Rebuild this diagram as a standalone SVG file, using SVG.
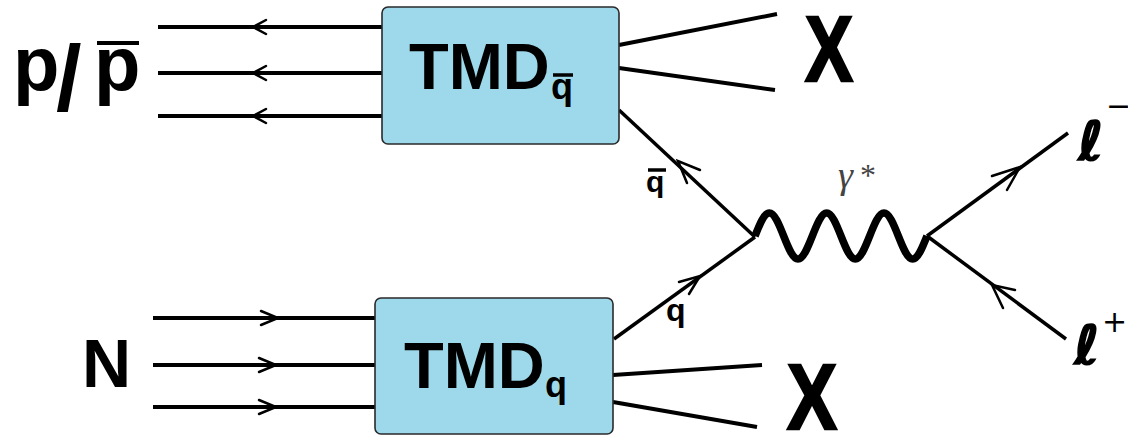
<svg xmlns="http://www.w3.org/2000/svg" width="1128" height="436" viewBox="0 0 1128 436">
<style>
.box{fill:#9dd9ea;stroke:#2a2a2a;stroke-width:1.6}
.ln{stroke:#000;stroke-width:4;fill:none;stroke-linecap:butt}
.fl{stroke:#000;stroke-width:3.5;fill:none}
.chev{stroke:#000;stroke-width:2.5;fill:none;stroke-linecap:round;stroke-linejoin:miter}
.wave{stroke:#000;stroke-width:7.5;fill:none;stroke-linejoin:round}
.t{font-family:"Liberation Sans",Arial,sans-serif;font-weight:bold;fill:#000}
.bar{stroke:#000;stroke-width:3.5}
.lep{font-family:"DejaVu Sans",sans-serif;font-weight:bold;font-style:oblique;fill:#000;stroke:#000;stroke-width:1.5}
.sup{font-family:"DejaVu Sans",sans-serif;font-weight:normal;font-style:normal;fill:#000;stroke:none}
</style>
<rect width="1128" height="436" fill="#fff"/>
<g id="connectors">
  <line class="ln" x1="158" y1="27" x2="383" y2="27"/>
  <line class="ln" x1="158" y1="73" x2="383" y2="73"/>
  <line class="ln" x1="158" y1="116" x2="383" y2="116"/>
  <polyline class="chev" points="266,20 253,27 266,34"/>
  <polyline class="chev" points="266,66 253,73 266,80"/>
  <polyline class="chev" points="266,109 253,116 266,123"/>
  <line class="ln" x1="153" y1="318" x2="376" y2="318"/>
  <line class="ln" x1="153" y1="365" x2="376" y2="365"/>
  <line class="ln" x1="153" y1="407" x2="376" y2="407"/>
  <polyline class="chev" points="261,311 278,318 261,325"/>
  <polyline class="chev" points="259,358 276,365 259,372"/>
  <polyline class="chev" points="259,400 276,407 259,414"/>
  <line class="ln" x1="619" y1="45" x2="777" y2="14"/>
  <line class="ln" x1="619" y1="68" x2="775" y2="90"/>
  <line class="ln" x1="613" y1="375" x2="762" y2="365"/>
  <line class="ln" x1="613" y1="402" x2="757" y2="427"/>
  <line class="fl" x1="619" y1="110" x2="755" y2="237"/>
  <polyline class="chev" points="700,170 678,161 687,183"/>
  <line class="fl" x1="614" y1="339" x2="755" y2="237"/>
  <polyline class="chev" points="679,282 700,276 689,294"/>
  <path class="wave" d="M755,236 c4.675,-11.78 9.146,-23 14.333,-23 c5.187,0 9.658,11.22 14.333,23 c4.675,11.78 9.146,23 14.333,23 c5.187,0 9.658,-11.22 14.333,-23 c4.675,-11.78 9.146,-23 14.333,-23 c5.187,0 9.658,11.22 14.333,23 c4.675,11.78 9.146,23 14.333,23 c5.187,0 9.658,-11.22 14.333,-23 c4.675,-11.78 9.146,-23 14.333,-23 c5.187,0 9.658,11.22 14.333,23 c4.675,11.78 9.146,23 14.333,23 c5.187,0 9.658,-11.22 14.333,-23"/>
  <line class="fl" x1="927" y1="236" x2="1068" y2="133"/>
  <polyline class="chev" points="992,176 1020,167 1007,190"/>
  <line class="fl" x1="927" y1="236" x2="1066" y2="339"/>
  <polyline class="chev" points="1015,290 992,285 1003,308"/>
</g>
<g id="tmd-qbar">
  <rect class="box" x="382" y="7" width="237" height="137" rx="6"/>
  <text class="t" x="409" y="89" font-size="65">TMD<tspan x="551" y="99" font-size="36">q</tspan></text>
  <line class="bar" x1="553" y1="75" x2="573" y2="75"/>
</g>
<g id="tmd-q">
  <rect class="box" x="375" y="298" width="238" height="136" rx="6"/>
  <text class="t" x="404" y="388" font-size="65">TMD<tspan x="545" y="397" font-size="36">q</tspan></text>
</g>
<g id="p-pbar">
  <text class="t" x="13" y="90" font-size="76">p<tspan x="56" y="110" font-size="92">/</tspan><tspan x="94" y="90" font-size="76">p</tspan></text>
  <line x1="97" y1="43" x2="139" y2="43" stroke="#000" stroke-width="4"/>
</g>
<g id="N">
  <text class="t" x="82" y="387" font-size="68">N</text>
</g>
<g id="X-top">
  <text class="t" x="805" y="81" font-size="92" textLength="48" lengthAdjust="spacingAndGlyphs" stroke="#000" stroke-width="2.5">X</text>
</g>
<g id="X-bottom">
  <text class="t" x="787" y="429" font-size="92" textLength="50" lengthAdjust="spacingAndGlyphs" stroke="#000" stroke-width="2.5">X</text>
</g>
<g id="qbar-label">
  <text class="t" x="646" y="192" font-size="30">q</text>
  <line class="bar" x1="648" y1="170" x2="666" y2="170" stroke-width="3"/>
</g>
<g id="q-label">
  <text class="t" x="666" y="321" font-size="32">q</text>
</g>
<g id="gamma-label">
  <text x="838" y="188" font-family="'Liberation Serif',serif" font-size="38" font-style="italic" fill="#444">γ<tspan x="860" y="186" font-size="32" font-style="normal">*</tspan></text>
</g>
<g id="l-minus">
  <text class="lep" x="1078" y="160" font-size="54">ℓ<tspan class="sup" x="1106" y="116" font-size="30">−</tspan></text>
</g>
<g id="l-plus">
  <text class="lep" x="1074" y="364" font-size="54">ℓ<tspan class="sup" x="1102" y="332" font-size="30">+</tspan></text>
</g>
</svg>
